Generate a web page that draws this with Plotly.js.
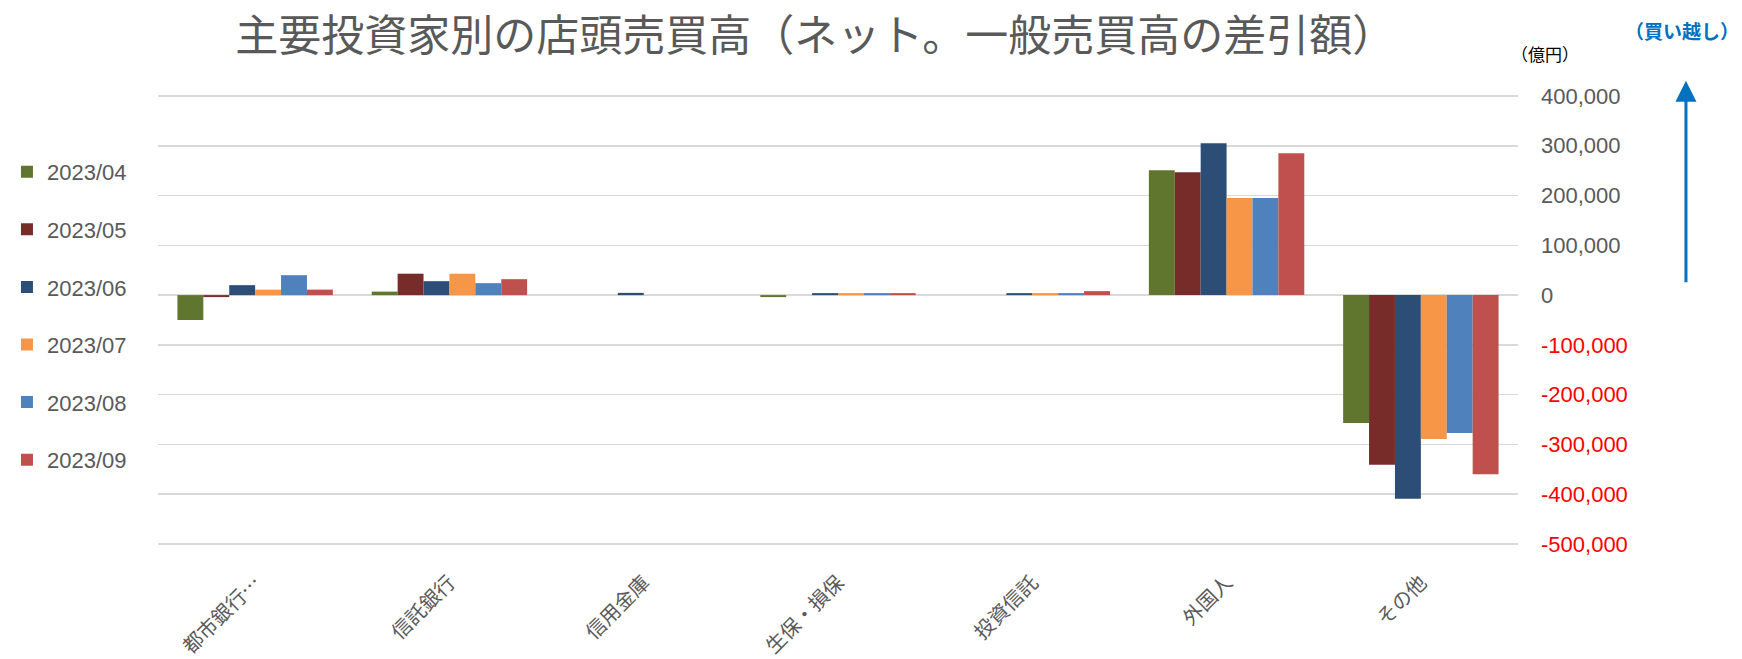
<!DOCTYPE html>
<html>
<head>
<meta charset="utf-8">
<script src="https://cdn.plot.ly/plotly-3.0.1.min.js"></script>
<style>html,body{margin:0;padding:0;background:#fff;}#chart{width:1742px;height:659px;}</style>
</head>
<body>
<div id="chart"></div>
<script>
const categories = ["都市銀行…", "信託銀行", "信用金庫", "生保・損保", "投資信託", "外国人", "その他"];
const seriesNames = ["2023/04", "2023/05", "2023/06", "2023/07", "2023/08", "2023/09"];
const s202304 = [-50000, 7000, 0, -4000, 0, 251000, -257000];
const s202305 = [-4000, 43000, 0, 0, 0, 247000, -341000];
const s202306 = [20000, 28000, 4500, 4000, 4000, 305000, -409000];
const s202307 = [11000, 43000, 0, 4000, 4000, 195000, -289000];
const s202308 = [40000, 24000, 0, 4000, 4000, 195000, -277000];
const s202309 = [11000, 32000, 0, 4000, 8000, 285000, -360000];
const yTickVals = [400000, 300000, 200000, 100000, 0, -100000, -200000, -300000, -400000, -500000];
const yTickLabels = ["400,000", "300,000", "200,000", "100,000", "0", "-100,000", "-200,000", "-300,000", "-400,000", "-500,000"];

const seriesValues = [s202304, s202305, s202306, s202307, s202308, s202309];
const colors = ["#60762F", "#772C2A", "#2C4D75", "#F79646", "#4F81BD", "#C0504D"];

const traces = seriesNames.map((name, i) => ({
  type: "bar",
  name: name,
  x: categories,
  y: seriesValues[i],
  legendgroup: "g" + i,
  marker: {color: colors[i], line: {width: 0}},
  hoverinfo: "x+y+name"
}));

const tickText = yTickVals.map((v, i) => v < 0 ? '<span style="color:#FF0000">' + yTickLabels[i] + '</span>' : yTickLabels[i]);

const layout = {
  width: 1742,
  height: 659,
  margin: {l: 158, r: 224, t: 90, b: 109},
  paper_bgcolor: "#ffffff",
  plot_bgcolor: "#ffffff",
  font: {family: "Liberation Sans, Noto Sans CJK JP, sans-serif", color: "#595959"},
  title: {
    text: "主要投資家別の店頭売買高（ネット。一般売買高の差引額）",
    font: {family: "Noto Sans CJK JP", size: 43, color: "#595959"},
    xref: "container", yref: "container",
    x: 0.468, xanchor: "center",
    y: 0.946, yanchor: "middle"
  },
  barmode: "group",
  bargap: 0.2,
  bargroupgap: 0,
  xaxis: {
    type: "category",
    tickangle: -45,
    tickfont: {family: "Noto Sans CJK JP", size: 20, color: "#595959"},
    showgrid: false,
    showline: false,
    ticks: "",
    ticklabelstandoff: 16,
    automargin: false
  },
  yaxis: {
    side: "right",
    range: [-512000, 412000],
    tickvals: yTickVals,
    ticktext: tickText,
    tickfont: {family: "Liberation Sans, sans-serif", size: 22, color: "#595959"},
    showgrid: true,
    gridcolor: "#D9D9D9",
    gridwidth: 1.5,
    zeroline: true,
    zerolinecolor: "#D9D9D9",
    zerolinewidth: 1.5,
    showline: false,
    ticks: "",
    ticklabelstandoff: 22,
    automargin: false
  },
  showlegend: true,
  legend: {
    xref: "container", yref: "container",
    x: 0.004, xanchor: "left",
    y: 0.771, yanchor: "top",
    traceorder: "grouped",
    tracegroupgap: 26,
    font: {family: "Liberation Sans, sans-serif", size: 22, color: "#595959"},
    bgcolor: "rgba(0,0,0,0)",
    itemclick: false
  },
  annotations: [
    {
      text: "（億円）",
      xref: "paper", yref: "paper",
      x: 1.02, y: 1.08, xanchor: "center", yanchor: "middle",
      showarrow: false,
      font: {family: "Noto Sans CJK JP", size: 17, color: "#000000"}
    },
    {
      text: "<b>（買い越し）</b>",
      xref: "paper", yref: "paper",
      x: 1.1206, y: 1.13, xanchor: "center", yanchor: "middle",
      showarrow: false,
      font: {family: "Noto Sans CJK JP", size: 19, color: "#0070C0"}
    },
    {
      text: "",
      xref: "paper", yref: "paper",
      x: 1.1235, y: 1.02,
      ax: 0, ay: 203,
      showarrow: true,
      arrowhead: 2,
      arrowsize: 1.4,
      arrowwidth: 3,
      arrowcolor: "#0070C0"
    }
  ]
};

Plotly.newPlot("chart", traces, layout, {displayModeBar: false, staticPlot: true});
</script>
</body>
</html>
